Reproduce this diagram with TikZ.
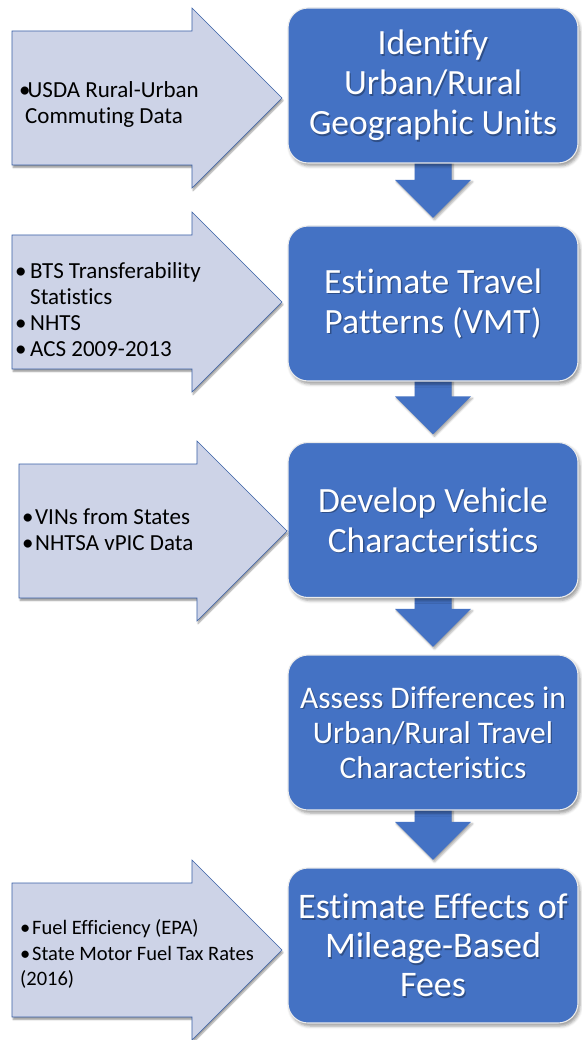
\documentclass[tikz,border=0pt]{standalone}
\usepackage{fontspec}
\setmainfont{Carlito}[Ligatures=NoCommon]
\usetikzlibrary{calc,shadows.blur}

\definecolor{accent}{HTML}{4472C4}
\definecolor{srcfill}{HTML}{CDD3E7}

\tikzset{
  stepbox/.style={draw=white!92!black, line width=1.1pt, fill=accent,
    rounded corners=20pt, minimum width=290pt, minimum height=155pt,
    inner sep=0pt,
    blur shadow={shadow xshift=2pt, shadow yshift=-3pt,
      shadow blur radius=3pt, shadow opacity=40}},
  flowarrow/.style={fill=accent,
    blur shadow={shadow xshift=1.5pt, shadow yshift=-2pt,
      shadow blur radius=2pt, shadow opacity=35}},
  srcarrow/.style={fill=srcfill, draw=accent!85!black, line width=0.6pt,
    blur shadow={shadow xshift=1pt, shadow yshift=-2.5pt,
      shadow blur radius=1.5pt, shadow opacity=40}},
  boxtxt/.style={align=center, inner sep=0pt, text=white},
  bigtxt/.style={font={\fontsize{35.5}{40}\selectfont}},
  midtxt/.style={font={\fontsize{36}{39}\selectfont}},
  smalltxt/.style={font={\fontsize{31.5}{35}\selectfont}},
  srctxt/.style={align=left, anchor=west, inner sep=0pt, text=black,
    font={\fontsize{23}{26}\selectfont}},
}

% bullet set in a box of the given width
\newcommand\bu[1]{\makebox[#1][l]{•}}

% block arrow pointing right: left edge, tip x, tip y
\newcommand\srcarrowpath[3]{%
  \path[srcarrow] (#1,#3-67) -- (#2-90,#3-67) -- (#2-90,#3-90) -- (#2,#3)
    -- (#2-90,#3+90) -- (#2-90,#3+67) -- (#1,#3+67) -- cycle;}

% downward block arrow between two step boxes
\newcommand\flowarrowpath[2]{%
  \path[flowarrow] let \p1=(#1.south), \p2=(#2.north) in
    (\x1-18.5pt,\y1+5pt) -- (\x1-18.5pt,\y2+46pt) -- (\x1-38pt,\y2+46pt)
    -- (\x1,\y2+8pt) -- (\x1+38pt,\y2+46pt) -- (\x1+18.5pt,\y2+46pt)
    -- (\x1+18.5pt,\y1+5pt) -- cycle;}

% white label with a soft dark shadow behind it
\newcommand\steplabel[4]{%
  \node[boxtxt,#3,text=black,opacity=0.3] (#1sh) at ($(#2)+(1.3,1.3)$) {#4};
  \node[boxtxt,#3] (#1) at (#2) {#4};}

\begin{document}
\begin{tikzpicture}[x=1pt,y=-1pt]
\useasboundingbox (0,0) rectangle (581,1040);

% step box centres
\coordinate (c1) at (433,85.5);
\coordinate (c2) at (433,303.5);
\coordinate (c3) at (433,520);
\coordinate (c4) at (433,732.5);
\coordinate (c5) at (433,945.5);

% invisible outlines used to place the arrows between boxes
\node[minimum width=290pt, minimum height=155pt, inner sep=0pt] (a1) at (c1) {};
\node[minimum width=290pt, minimum height=155pt, inner sep=0pt] (a2) at (c2) {};
\node[minimum width=290pt, minimum height=155pt, inner sep=0pt] (a3) at (c3) {};
\node[minimum width=290pt, minimum height=155pt, inner sep=0pt] (a4) at (c4) {};
\node[minimum width=290pt, minimum height=155pt, inner sep=0pt] (a5) at (c5) {};

% arrows between the steps
\flowarrowpath{a1}{a2}
\flowarrowpath{a2}{a3}
\flowarrowpath{a3}{a4}
\flowarrowpath{a4}{a5}

% steps
\node[stepbox] (b1) at (c1) {};
\node[stepbox] (b2) at (c2) {};
\node[stepbox] (b3) at (c3) {};
\node[stepbox] (b4) at (c4) {};
\node[stepbox] (b5) at (c5) {};

\steplabel{l1}{b1}{bigtxt}{Identify\\Urban/Rural\\Geographic Units}
\steplabel{l2}{b2}{bigtxt}{Estimate Travel\\Patterns (VMT)}
\steplabel{l3}{b3}{bigtxt}{Develop Vehicle\\Characteristics}
\steplabel{l4}{b4}{smalltxt}{Assess Differences in\\Urban/Rural Travel\\Characteristics}
\steplabel{l5}{b5}{midtxt}{Estimate Effects of\\Mileage-Based\\Fees}

% data sources feeding the steps
\srcarrowpath{12}{282}{98}
\srcarrowpath{12}{282}{302}
\srcarrowpath{19}{287}{531}
\srcarrowpath{12}{282}{950}

\node[srctxt] (s1) at (19,104)
  {\bu{8.5pt}USDA Rural-Urban\\\hspace*{6pt}Commuting Data};
\node[srctxt] (s2) at (15,309.5)
  {\bu{15pt}BTS Transferability\\\hspace*{15pt}Statistics\\\bu{15pt}NHTS\\\bu{15pt}ACS 2009-2013};
\node[srctxt] (s3) at (22,530)
  {\bu{13pt}VINs from States\\\bu{13pt}NHTSA vPIC Data};
\node[srctxt, font={\fontsize{20.5}{25.5}\selectfont}] (s5) at (20,954)
  {\bu{12pt}Fuel Efficiency (EPA)\\\bu{12pt}State Motor Fuel Tax Rates\\(2016)};
\end{tikzpicture}
\end{document}
